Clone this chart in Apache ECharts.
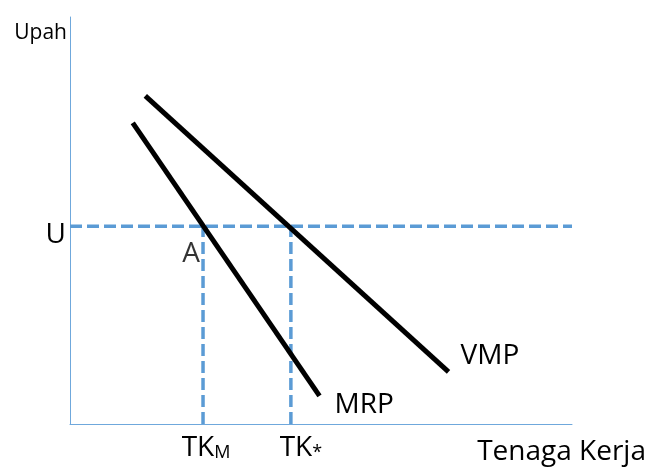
<!DOCTYPE html>
<html>
<head>
<meta charset="utf-8">
<script src="https://cdn.jsdelivr.net/npm/echarts@6/dist/echarts.min.js"></script>
<style>
  html, body { margin: 0; padding: 0; background: #fff; }
  #chart { width: 649px; height: 468px; }
</style>
</head>
<body>
<div id="chart"></div>
<script>
// Labour market: marginal revenue product vs value of marginal product
const axisRange = [0, 100];
const wageU = 48.6;              // wage level U
const tkM = 26.5;                // employment where MRP meets U
const tkStar = 44;               // employment where VMP meets U
const mrpX = [12.5, 49.7];
const mrpY = [74, 6.9];
const vmpX = [15, 75.4];
const vmpY = [80.6, 12.8];
const xTickValues = [tkM, tkStar];
const xTickNames = ['M', '*'];
const yTickValues = [wageU];
const yTickNames = ['U'];

const FONT = 'Open Sans';
const FS = 28;
const BLUE = '#5B9BD5';
const AXIS_BLUE = '#6FA8DC';

const pairs = (xs, ys) => xs.map((x, i) => [x, ys[i]]);

const dashed = { color: BLUE, width: 3.5, type: [12, 5] };

const chart = echarts.init(document.getElementById('chart'), null, { renderer: 'canvas' });
chart.setOption({
  animation: false,
  backgroundColor: '#fff',
  grid: { left: 70, right: 74, top: 17, bottom: 44, containLabel: false },
  xAxis: {
    type: 'value', min: axisRange[0], max: axisRange[1],
    axisLine: { show: true, lineStyle: { color: AXIS_BLUE, width: 1 } },
    axisTick: { show: false },
    splitLine: { show: false },
    axisLabel: {
      customValues: xTickValues,
      margin: 10,
      formatter: (v) => {
        const i = xTickValues.indexOf(v);
        return i === 0 ? '{t|TK}{s|' + xTickNames[i] + '}' : '{t2|TK}{s2|' + xTickNames[i] + '}';
      },
      rich: {
        t: { fontFamily: FONT, fontSize: FS, color: '#000', padding: [0, 0, 0, 6] },
        s: { fontFamily: FONT, fontSize: 18, color: '#000', padding: [10, 0, 0, 0] },
        t2: { fontFamily: FONT, fontSize: FS, color: '#000', padding: [0, 0, 0, 20] },
        s2: { fontFamily: FONT, fontSize: 18, color: '#000', padding: [10, 0, 0, 0] }
      }
    },
    name: 'Tenaga Kerja',
    nameLocation: 'end',
    nameGap: 74,
    nameTextStyle: { fontFamily: FONT, fontSize: FS, color: '#000', align: 'right', verticalAlign: 'top', padding: [14, 0, 0, 0] }
  },
  yAxis: {
    type: 'value', min: axisRange[0], max: axisRange[1],
    axisLine: { show: true, lineStyle: { color: AXIS_BLUE, width: 1 } },
    axisTick: { show: false },
    splitLine: { show: false },
    axisLabel: {
      customValues: yTickValues,
      margin: 4,
      formatter: (v) => '{u|' + yTickNames[yTickValues.indexOf(v)] + '}',
      rich: {
        u: { fontFamily: FONT, fontSize: FS, color: '#000', padding: [17, 0, 0, 0] }
      }
    },
    name: 'Upah',
    nameLocation: 'end',
    nameGap: -6,
    nameTextStyle: { fontFamily: FONT, fontSize: 21, color: '#000', align: 'right', verticalAlign: 'top', padding: [0, 3, 0, 0] }
  },
  series: [
    {
      type: 'line', data: [[axisRange[0], wageU], [axisRange[1], wageU]],
      symbol: 'none', lineStyle: dashed, z: 1
    },
    {
      type: 'line', data: [[tkM, axisRange[0]], [tkM, wageU]],
      symbol: 'none', lineStyle: dashed, z: 1
    },
    {
      type: 'line', data: [[tkStar, axisRange[0]], [tkStar, wageU]],
      symbol: 'none', lineStyle: dashed, z: 1
    },
    {
      name: 'MRP', type: 'line', data: pairs(mrpX, mrpY),
      symbol: 'none', lineStyle: { color: '#000', width: 5, cap: 'butt' }, z: 3,
      endLabel: { show: true, formatter: 'MRP', distance: 15, offset: [0, 9],
        fontFamily: FONT, fontSize: FS, color: '#000' }
    },
    {
      name: 'VMP', type: 'line', data: pairs(vmpX, vmpY),
      symbol: 'none', lineStyle: { color: '#000', width: 5, cap: 'butt' }, z: 3,
      endLabel: { show: true, formatter: 'VMP', distance: 12, offset: [0, -16],
        fontFamily: FONT, fontSize: FS, color: '#000' }
    },
    {
      type: 'scatter', data: [[tkM, wageU]], symbolSize: 0, z: 4,
      label: { show: true, formatter: 'A', position: 'inside', offset: [-12, 28],
        fontFamily: FONT, fontSize: FS, color: '#000' }
    }
  ]
});
</script>
</body>
</html>
